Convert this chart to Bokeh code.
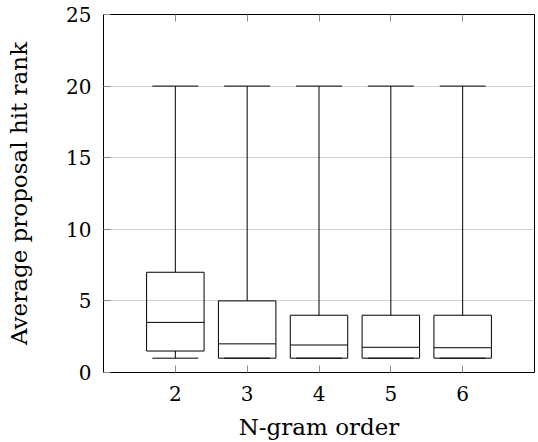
from bokeh.plotting import figure
from bokeh.models import (Range1d, FixedTicker, LinearAxis, ColumnDataSource,
                          CustomJSTickFormatter)
from bokeh.embed import file_html
from bokeh.resources import INLINE

# ---- data ----
orders = [2, 3, 4, 5, 6]
whisker_low = [1, 1, 1, 1, 1]
q1 = [1.5, 1, 1, 1, 1]
median = [3.5, 2.0, 1.92, 1.76, 1.73]
q3 = [7, 5, 4, 4, 4]
whisker_high = [20, 20, 20, 20, 20]
x_ticks = [2, 3, 4, 5, 6]
y_ticks = [0, 5, 10, 15, 20, 25]
x_label = "N-gram order"
y_label = "Average proposal hit rank"

FONT = "DejaVu Serif"
BOX_W = 0.8
CAP_HALF = 0.32

p = figure(output_backend="svg", toolbar_location=None,
           x_range=Range1d(1, 7), y_range=Range1d(0, 25),
           frame_width=431, frame_height=358,
           min_border_left=103, min_border_right=3,
           min_border_top=14, min_border_bottom=70)
p.background_fill_color = "white"
p.border_fill_color = "white"
p.outline_line_color = "black"
p.outline_line_width = 1

src = ColumnDataSource(dict(
    x=orders, lo=whisker_low, q1=q1, med=median, q3=q3, hi=whisker_high,
    bl=[o - BOX_W / 2 for o in orders], br=[o + BOX_W / 2 for o in orders],
    cl=[o - CAP_HALF for o in orders], cr=[o + CAP_HALF for o in orders],
))

p.vbar(x="x", width=BOX_W, bottom="q1", top="q3", source=src,
       fill_color=None, line_color="black", line_width=1)
p.segment(x0="bl", x1="br", y0="med", y1="med", source=src, line_color="black", line_width=1)
p.segment(x0="x", x1="x", y0="q3", y1="hi", source=src, line_color="black", line_width=1)
p.segment(x0="x", x1="x", y0="lo", y1="q1", source=src, line_color="black", line_width=1)
p.segment(x0="cl", x1="cr", y0="hi", y1="hi", source=src, line_color="black", line_width=1)
p.segment(x0="cl", x1="cr", y0="lo", y1="lo", source=src, line_color="black", line_width=1)

p.xgrid.visible = False
p.ygrid.ticker = FixedTicker(ticks=y_ticks)
p.ygrid.grid_line_color = "#d0d0d0"
p.ygrid.grid_line_width = 1

TICK_C = "#8a8a8a"
for ax, ticks in ((p.xaxis[0], x_ticks), (p.yaxis[0], y_ticks)):
    ax.ticker = FixedTicker(ticks=ticks)
    ax.axis_line_color = None
    ax.major_tick_in = 7
    ax.major_tick_out = 0
    ax.major_tick_line_color = TICK_C
    ax.minor_tick_line_color = None
    ax.major_label_text_font = FONT
    ax.major_label_text_font_size = "20px"
    ax.major_label_text_color = "black"
    ax.axis_label_text_font = FONT
    ax.axis_label_text_font_size = "23px"
    ax.axis_label_text_font_style = "normal"
    ax.axis_label_text_color = "black"

p.xaxis[0].major_label_standoff = 13
p.xaxis[0].axis_label = x_label
p.xaxis[0].axis_label_standoff = 10
p.yaxis[0].major_label_standoff = 12
p.yaxis[0].axis_label = y_label
p.yaxis[0].axis_label_standoff = 31

blank = CustomJSTickFormatter(code="return ''")
top_ax = LinearAxis(ticker=FixedTicker(ticks=x_ticks), formatter=blank,
                    axis_line_color=None, major_tick_in=7, major_tick_out=0,
                    major_tick_line_color=TICK_C, minor_tick_line_color=None,
                    major_label_standoff=0)
p.add_layout(top_ax, "above")

open("out.html", "w").write(file_html(p, INLINE))
